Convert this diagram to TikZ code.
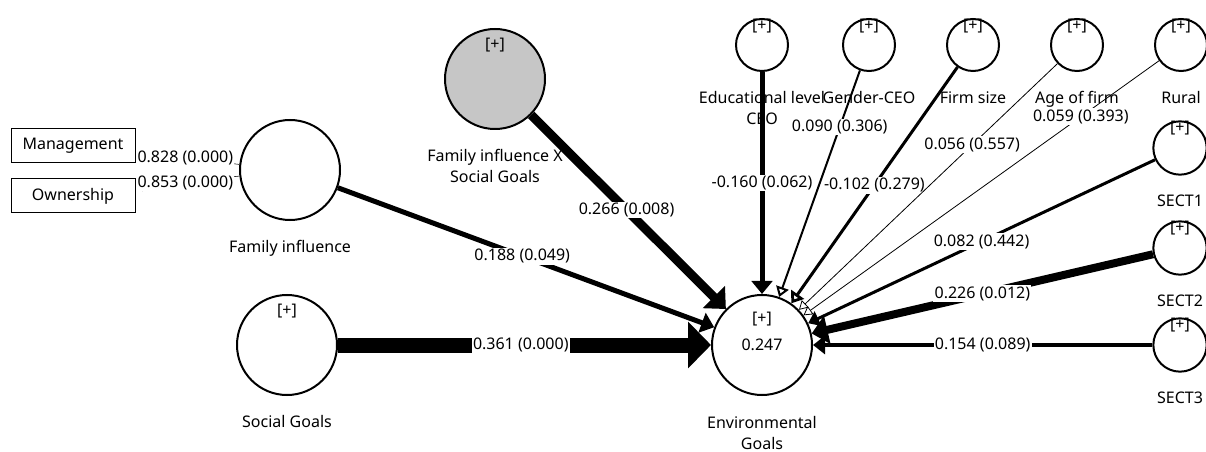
\documentclass[tikz,border=0pt]{standalone}
\usepackage{fontspec}
\setmainfont{Noto Sans}
\usetikzlibrary{arrows.meta}

\tikzset{lv/.style = {circle, draw, fill=white, line width=1.5pt, minimum size=#1, inner sep=0pt},
         lv/.default=75pt,
         mv/.style = {rectangle, draw, line width=0.75pt, minimum width=93pt, minimum height=25.5pt},
         plusmark/.style = {label={[anchor=center, label distance=#1]90:{[+]}}},
         plusmark/.default=-12.75pt,
         lvname/.style = {label={[anchor=north, label distance=11pt, align=center]270:{#1}}},
         coef/.style = {fill=white, inner sep=1pt},
         effect/.style = {line width=#1, -{Triangle[length=6pt 1, width=6pt 2.5]}},
         weak/.style = {line width=#1, -{Triangle[open, fill=white, length=6pt 1, width=6pt 2.5]}},
         loading/.style = {line width=0.4pt, -{Triangle[length=5pt, width=5pt]}}
        }

\begin{document}
\begin{tikzpicture}[x=0.75pt, y=-0.75pt, font=\fontsize{12}{16}\selectfont]
  \useasboundingbox (0,0) rectangle (1206,452);
  % constructs
  \node[lv, lvname=Family influence] (fi) at (290,170) {};
  \node[lv, fill=gray!45, plusmark, lvname={Family influence X\\Social Goals}] (fisg) at (495,79) {};
  \node[lv, plusmark, lvname=Social Goals] (sg) at (287,345) {};
  \node[lv, plusmark=-18.75pt,
        label={[anchor=north, label distance=11.5pt, align=center]270:{Environmental\\Goals}}] (eg) at (762,345) {0.247};
  % controls
  \node[lv=39pt, plusmark=-6pt, lvname={Educational level\\CEO}] (edu) at (762,45) {};
  \node[lv=39pt, plusmark=-6pt, lvname=Gender-CEO] (gen) at (869,45) {};
  \node[lv=39pt, plusmark=-6pt, lvname=Firm size] (size) at (973,45) {};
  \node[lv=39pt, plusmark=-6pt, lvname=Age of firm] (age) at (1077,45) {};
  \node[lv=39pt, plusmark=-6pt, lvname=Rural] (rural) at (1181,45) {};
  \node[lv=40pt, plusmark=-6pt, lvname=SECT1] (s1) at (1180,148) {};
  \node[lv=40pt, plusmark=-6pt, lvname=SECT2] (s2) at (1180,248) {};
  \node[lv=40pt, plusmark=-6pt, lvname=SECT3] (s3) at (1180,345) {};
  % indicators
  \node[mv] (man) at (73,146) {Management};
  \node[mv] (own) at (73,196) {Ownership};

  \draw[loading] (fi) -- node[coef, pos=.52] {0.828 (0.000)} (man);
  \draw[loading] (fi) -- node[coef, pos=.52] {0.853 (0.000)} (own);

  \draw[effect=3.75pt] (fi) -- node[coef, pos=.49] {0.188 (0.049)} (eg);
  \draw[effect=6.75pt] (fisg) -- node[coef, pos=.49] {0.266 (0.008)} (eg);
  \draw[effect=11.25pt] (sg) -- node[coef, pos=.49] {0.361 (0.000)} (eg);
  \draw[effect=3.75pt] (edu) -- node[coef] {-0.160 (0.062)} (eg);
  \draw[weak=1.5pt] (gen) -- node[coef, pos=.25] {0.090 (0.306)} (eg);
  \draw[weak=2.25pt] (size) -- node[coef] {-0.102 (0.279)} (eg);
  \draw[weak=0.6pt] (age) -- node[coef, pos=.33] {0.056 (0.557)} (eg);
  \draw[weak=0.6pt] (rural) -- node[coef, pos=.22] {0.059 (0.393)} (eg);
  \draw[effect=2.25pt] (s1) -- node[coef] {0.082 (0.442)} (eg);
  \draw[effect=6pt] (s2) -- node[coef] {0.226 (0.012)} (eg);
  \draw[effect=3pt] (s3) -- node[coef] {0.154 (0.089)} (eg);
\end{tikzpicture}
\end{document}
